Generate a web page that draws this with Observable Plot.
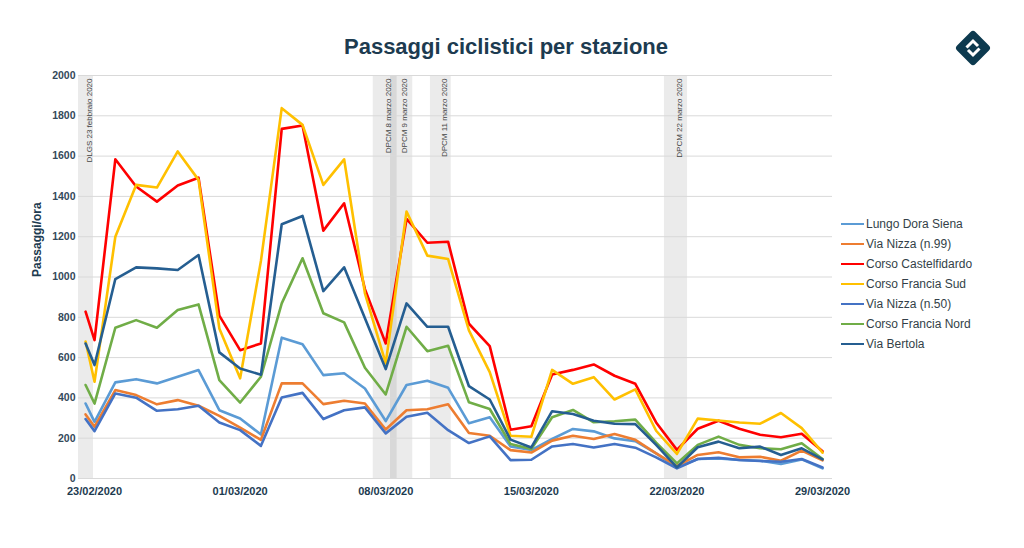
<!DOCTYPE html>
<html>
<head>
<meta charset="utf-8">
<script src="https://cdn.jsdelivr.net/npm/d3@7"></script>
<script src="https://cdn.jsdelivr.net/npm/@observablehq/plot@0.6"></script>
<style>
  body { margin: 0; background: #fff; }
  #wrap { position: relative; width: 1024px; height: 548px; background: #fff; font-family: "Liberation Sans", Arial, sans-serif; overflow: hidden; }
  #title { position: absolute; left: 0; top: 36px; width: 1012px; text-align: center; font-size: 22px; line-height: 22px; font-weight: bold; color: #1d3b50; }
  #chart { position: absolute; left: 0; top: 0; }
  #legend { position: absolute; left: 841px; top: 214px; font-size: 12px; color: #333f48; }
  .row { display: flex; align-items: center; height: 20px; white-space: nowrap; }
  .sw { display: inline-block; width: 23px; height: 2.5px; margin-right: 2px; }
  #logo { position: absolute; left: 953px; top: 28px; }
</style>
</head>
<body>
<div id="wrap">
  <div id="chart"></div>
  <div id="title">Passaggi ciclistici per stazione</div>
  <div id="legend"></div>
  <svg id="logo" width="40" height="40" viewBox="0 0 40 40">
    <g transform="rotate(45 20 20)">
      <rect x="7" y="7" width="26" height="26" rx="3.5" fill="#0d3a4f"/>
    </g>
    <path d="M13.5 19.5 L20 13 L25 18" fill="none" stroke="#fff" stroke-width="3"/>
    <path d="M15 22 L20 27 L26.5 20.5" fill="none" stroke="#fff" stroke-width="3"/>
  </svg>
</div>
<script>
// ---- data ----
const dates = [
  "2020-02-22T13:40Z",
  "2020-02-23","2020-02-24","2020-02-25","2020-02-26","2020-02-27","2020-02-28","2020-02-29",
  "2020-03-01","2020-03-02","2020-03-03","2020-03-04","2020-03-05","2020-03-06","2020-03-07",
  "2020-03-08","2020-03-09","2020-03-10","2020-03-11","2020-03-12","2020-03-13","2020-03-14",
  "2020-03-15","2020-03-16","2020-03-17","2020-03-18","2020-03-19","2020-03-20","2020-03-21",
  "2020-03-22","2020-03-23","2020-03-24","2020-03-25","2020-03-26","2020-03-27","2020-03-28",
  "2020-03-29"
];

const lungoDoraSiena     = [372,281,477,493,472,505,538,339,298,218,699,666,513,522,447,285,464,485,450,274,304,159,141,196,246,234,199,185,125,55,97,100,92,88,72,95,50];
const viaNizza99         = [318,257,439,414,368,389,361,311,252,192,472,472,369,386,372,243,339,344,368,226,212,141,129,188,212,196,221,192,125,62,117,130,105,108,88,138,90];
const corsoCastelfidardo = [828,687,1584,1449,1374,1454,1493,808,637,670,1735,1752,1230,1366,940,670,1288,1170,1175,768,657,242,259,516,539,566,510,470,278,142,247,287,247,217,205,222,135];
const corsoFranciaSud    = [680,480,1200,1457,1444,1623,1482,745,497,1080,1838,1755,1457,1584,919,571,1325,1106,1089,735,528,212,207,539,470,503,392,442,237,122,297,288,278,272,325,250,128];
const viaNizza50         = [295,235,422,401,336,344,361,278,240,162,402,425,295,339,353,224,306,326,240,176,209,91,93,159,171,154,171,153,105,50,97,103,92,87,83,97,55];
const corsoFranciaNord   = [464,372,748,786,748,836,864,488,377,505,869,1093,820,775,550,417,753,632,659,378,345,171,146,304,340,279,284,292,178,75,167,208,167,150,145,175,97];
const viaBertola         = [670,563,990,1048,1043,1035,1109,626,546,515,1262,1303,930,1048,795,543,869,753,753,458,392,193,154,334,320,287,272,270,167,55,155,183,150,158,117,150,95];

const seriesNames  = ["Lungo Dora Siena","Via Nizza (n.99)","Corso Castelfidardo","Corso Francia Sud","Via Nizza (n.50)","Corso Francia Nord","Via Bertola"];
const seriesValues = [lungoDoraSiena, viaNizza99, corsoCastelfidardo, corsoFranciaSud, viaNizza50, corsoFranciaNord, viaBertola];
const seriesColors = ["#5b9bd5","#ed7d31","#ff0000","#ffc000","#4472c4","#70ad47","#255e91"];

const bandLabels = ["DLGS 23 febbraio 2020","DPCM 8 marzo 2020","DPCM 9 marzo 2020","DPCM 11 marzo 2020","DPCM 22 marzo 2020"];
const bandStart  = ["2020-02-22T05:30Z","2020-03-07T09:36Z","2020-03-08T05:30Z","2020-03-10T03:36Z","2020-03-21T09:36Z"];
const bandEnd    = ["2020-02-22T22:50Z","2020-03-08T13:12Z","2020-03-09T07:12Z","2020-03-11T03:36Z","2020-03-22T12:15Z"];

const xTicks = ["2020-02-23","2020-03-01","2020-03-08","2020-03-15","2020-03-22","2020-03-29"];
const yTicks = [0,200,400,600,800,1000,1200,1400,1600,1800,2000];
const xDomain = ["2020-02-22T05:30Z","2020-03-29T11:30Z"];
const yDomain = [0, 2000];
const yTitle = "Passaggi/ora";

// ---- tables ----
const table = [];
seriesNames.forEach((name, i) => {
  seriesValues[i].forEach((v, j) => table.push({series: name, date: new Date(dates[j]), value: v}));
});
const bands = bandLabels.map((label, i) => ({label, start: new Date(bandStart[i]), end: new Date(bandEnd[i])}));
const fmt = d3.utcFormat("%d/%m/%Y");

const chart = Plot.plot({
  width: 1024,
  height: 548,
  marginTop: 75,
  marginBottom: 70,
  marginLeft: 78,
  marginRight: 192,
  style: {fontFamily: "'Liberation Sans', Arial, sans-serif", background: "transparent", overflow: "visible"},
  x: {type: "utc", domain: xDomain.map(d => new Date(d))},
  y: {domain: yDomain},
  color: {domain: seriesNames, range: seriesColors},
  marks: [
    Plot.rect(bands, {x1: "start", x2: "end", fill: "#000", fillOpacity: 0.08}),
    Plot.gridY(yTicks, {stroke: "#d9d9d9", strokeOpacity: 1}),
    Plot.text(bands, {
      x: d => new Date((+d.start + +d.end) / 2),
      frameAnchor: "top", rotate: -90, textAnchor: "end", dy: 3,
      text: "label", fontSize: 8, fill: "#444"
    }),
    Plot.axisY(yTicks, {tickSize: 0, tickPadding: 3, tickFormat: d => String(d), fontSize: 10.5, fontWeight: "bold", fill: "#34495a", color: "#34495a", label: null}),
    Plot.axisX(xTicks.map(d => new Date(d)), {tickSize: 0, tickPadding: 9, tickFormat: fmt, fontSize: 11, fontWeight: "bold", fill: "#1d3b50", color: "#1d3b50", label: null}),
    Plot.text([yTitle], {frameAnchor: "left", dx: -41, rotate: -90, fontSize: 12, fontWeight: "bold", fill: "#1d3b50"}),
    Plot.line(table, {x: "date", y: "value", z: "series", stroke: "series", strokeWidth: 2.6, strokeLinejoin: "round", strokeLinecap: "round"})
  ]
});
document.getElementById("chart").appendChild(chart);

// legend
const legend = document.getElementById("legend");
seriesNames.forEach((name, i) => {
  const row = document.createElement("div");
  row.className = "row";
  const sw = document.createElement("span");
  sw.className = "sw";
  sw.style.background = seriesColors[i];
  const tx = document.createElement("span");
  tx.textContent = name;
  row.appendChild(sw);
  row.appendChild(tx);
  legend.appendChild(row);
});
</script>
</body>
</html>
